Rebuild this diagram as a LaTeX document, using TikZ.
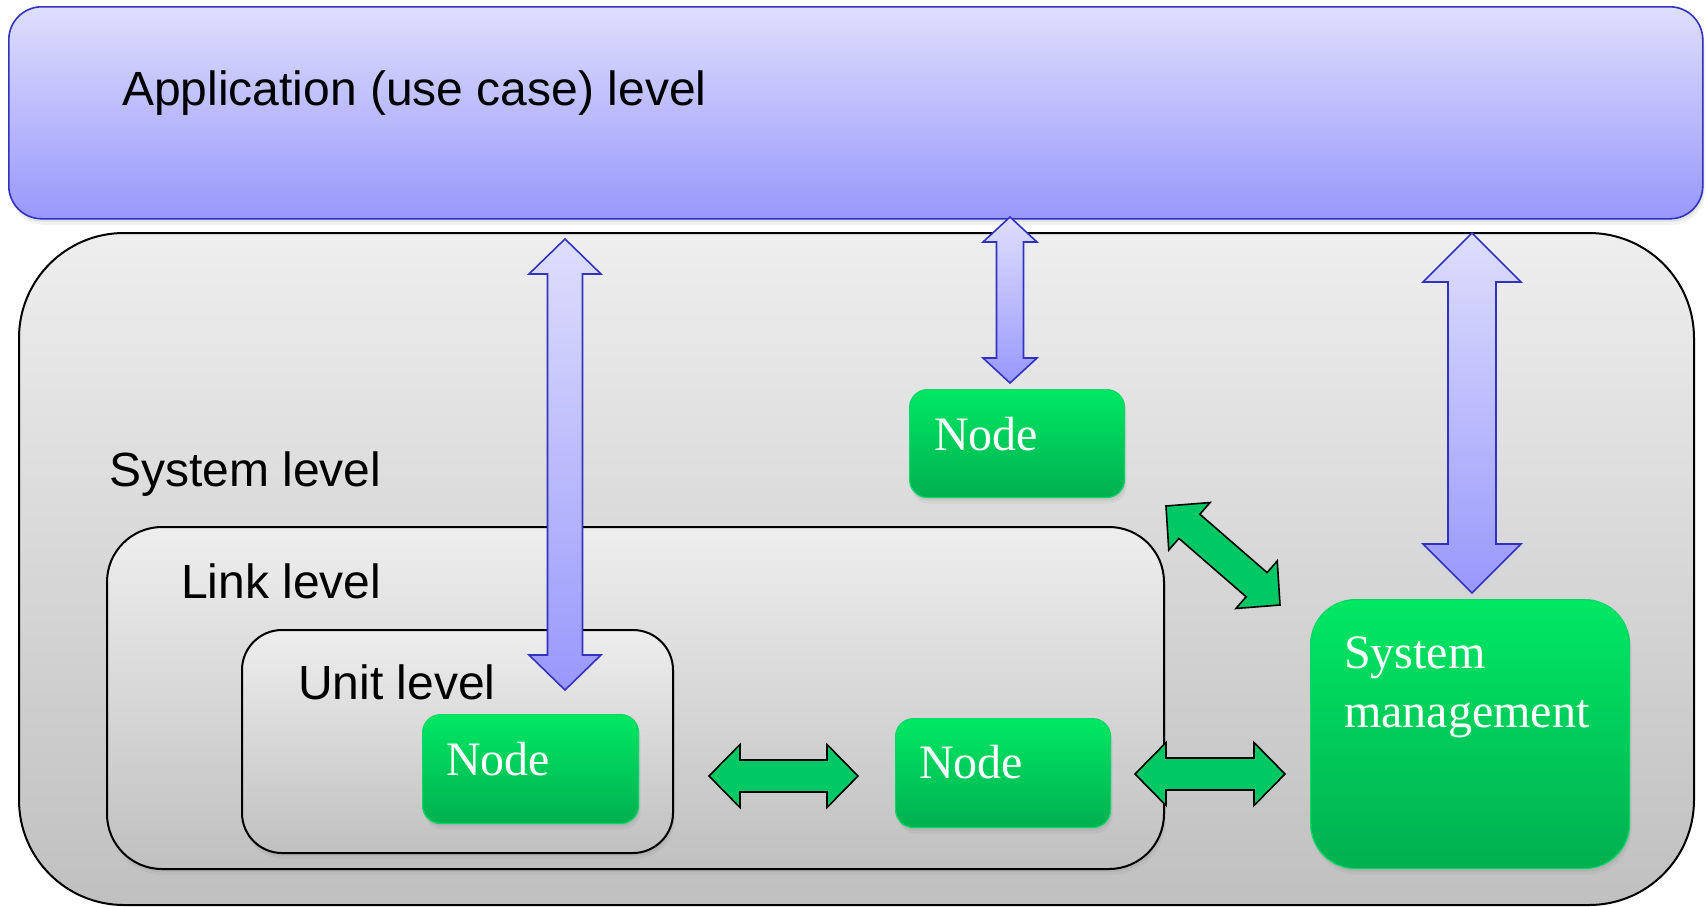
\documentclass[tikz,border=0pt]{standalone}
\usepackage{fontspec}
\setmainfont{Liberation Serif}
\newfontfamily\labelfont{Liberation Sans}
\usetikzlibrary{calc,shadows}

\definecolor{appTop}{RGB}{222,222,252}
\definecolor{appBot}{RGB}{152,152,252}
\definecolor{appLine}{RGB}{50,50,190}
\definecolor{grayTop}{RGB}{238,238,238}
\definecolor{grayBot}{RGB}{192,192,192}
\definecolor{grnTop}{RGB}{0,232,100}
\definecolor{grnBot}{RGB}{0,176,80}
\definecolor{grnLine}{RGB}{0,215,105}
\definecolor{grnArrow}{RGB}{0,200,100}

% Double-headed block arrow from #2 to #3:
% #4 shaft half width, #5 head half width, #6 head length
\newcommand\dblarrow[6][]{%
  \coordinate (da-h1) at ($(#2)!#6!(#3)$);
  \coordinate (da-h2) at ($(#3)!#6!(#2)$);
  \draw[#1] (#2)
    -- ($(da-h1)!#5!90:(#3)$) -- ($(da-h1)!#4!90:(#3)$)
    -- ($(da-h2)!#4!-90:(#2)$) -- ($(da-h2)!#5!-90:(#2)$)
    -- (#3)
    -- ($(da-h2)!#5!90:(#2)$) -- ($(da-h2)!#4!90:(#2)$)
    -- ($(da-h1)!#4!-90:(#3)$) -- ($(da-h1)!#5!-90:(#3)$)
    -- cycle;
}

\begin{document}
\begin{tikzpicture}[x=1pt,y=-1pt,
  box/.style={rectangle, anchor=north west, inner sep=0pt},
  softshadow/.style={drop shadow={opacity=.14, shadow xshift=1pt, shadow yshift=-3pt},
                     drop shadow={opacity=.10, shadow xshift=2pt, shadow yshift=-6pt}},
  appbox/.style={box, draw=appLine, line width=1.6pt, top color=appTop, bottom color=appBot, rounded corners=33pt, softshadow},
  levelbox/.style={box, draw=black, line width=2pt, top color=grayTop, bottom color=grayBot},
  greenbox/.style={box, draw=grnLine, line width=1.2pt, top color=grnTop, bottom color=grnBot, softshadow},
  leveltext/.style={anchor=base west, inner sep=0pt, font=\labelfont\fontsize{48}{58}\selectfont},
  nodetext/.style={anchor=base west, inner sep=0pt, text=white, align=left, font=\fontsize{48}{59}\selectfont},
  bluearrow/.style={draw=appLine, line width=1.6pt, top color=appTop, bottom color=appBot, line join=miter},
  greenarrow/.style={draw=black, line width=1.6pt, fill=grnArrow, line join=miter}
]
\useasboundingbox (0,0) rectangle (1706,906);

% Application level band
\node[appbox, minimum width=1694pt, minimum height=212pt] (app) at (8,6) {};
\node[leveltext] (apptext) at (122,105) {Application (use case) level};

% Nested level frames
\node[levelbox, rounded corners=105pt, minimum width=1675pt, minimum height=672pt] (sys) at (18,232) {};
\node[leveltext] (systext) at (109,486) {System level};

\node[levelbox, rounded corners=55pt, minimum width=1057pt, minimum height=342pt, softshadow] (link) at (106,526) {};
\node[leveltext] (linktext) at (181,598) {Link level};

\node[levelbox, rounded corners=40pt, minimum width=431pt, minimum height=223pt, softshadow] (unit) at (241,629) {};
\node[leveltext] (unittext) at (298,699) {Unit level};

% Green nodes
\node[greenbox, rounded corners=18pt, minimum width=216pt, minimum height=109pt] (unode) at (422,714) {};
\node[nodetext] (unodetext) at (446,775) {Node};

\node[greenbox, rounded corners=18pt, minimum width=215pt, minimum height=108pt] (tnode) at (909,389) {};
\node[nodetext] (tnodetext) at (934,450) {Node};

\node[greenbox, rounded corners=18pt, minimum width=215pt, minimum height=109pt] (mnode) at (895,718) {};
\node[nodetext] (mnodetext) at (919,778) {Node};

\node[greenbox, rounded corners=45pt, minimum width=319pt, minimum height=269pt] (mgmt) at (1310,599) {};
% base anchor of a two-line node sits on the last line
\node[nodetext] (mgmttext) at (1344,727) {System\\management};

% Arrow end points
\coordinate (aU) at (565,239);   \coordinate (aD) at (565,690);
\coordinate (bU) at (1010,217);  \coordinate (bD) at (1010,383);
\coordinate (cU) at (1472,233);  \coordinate (cD) at (1472,593);
\coordinate (g1L) at (709,776);  \coordinate (g1R) at (858,776);
\coordinate (g2L) at (1135,774); \coordinate (g2R) at (1285,774);
\coordinate (g3A) at (1166,506); \coordinate (g3B) at (1280,605);

% Vertical links to the application level
\dblarrow[bluearrow]{aU}{aD}{17.5pt}{36pt}{35pt}
\dblarrow[bluearrow]{bU}{bD}{13.5pt}{27pt}{25pt}
\dblarrow[bluearrow]{cU}{cD}{24pt}{49pt}{49pt}

% Green links between nodes
\dblarrow[greenarrow]{g1L}{g1R}{16pt}{31.5pt}{31pt}
\dblarrow[greenarrow]{g2L}{g2R}{16pt}{31.5pt}{31pt}
\dblarrow[greenarrow]{g3A}{g3B}{16pt}{31.5pt}{31pt}
\end{tikzpicture}
\end{document}
